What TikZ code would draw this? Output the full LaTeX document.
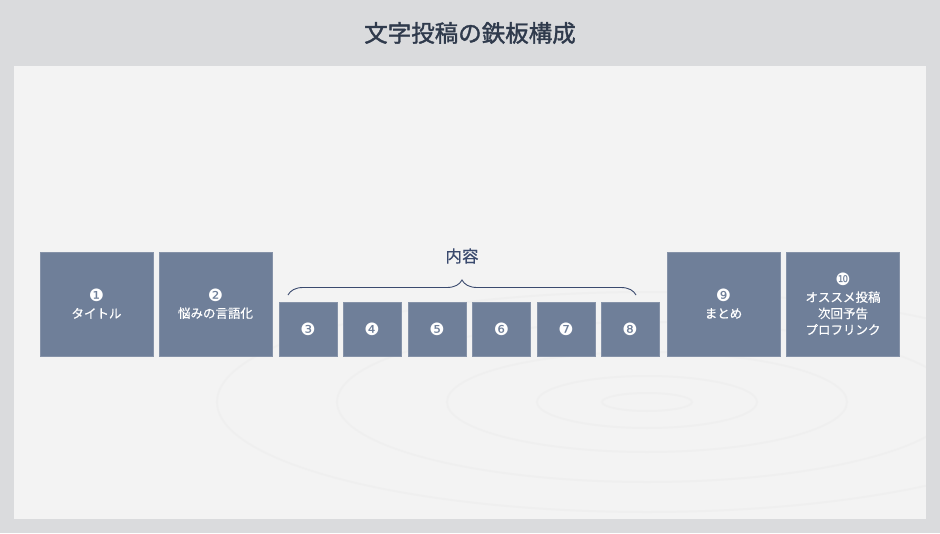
\documentclass[tikz,border=0pt]{standalone}
\usepackage{fontspec}
\usepackage{tikz}
\usetikzlibrary{decorations.pathreplacing}
\newfontfamily\jp[FakeBold=0.6]{Noto Sans CJK JP}
\newfontfamily\jpbold[FakeBold=1.6]{Noto Sans CJK JP}
\newfontfamily\numfont{DejaVu Sans}
\definecolor{slidebg}{HTML}{DADBDD}
\definecolor{panelbg}{HTML}{F3F3F3}
\definecolor{boxblue}{HTML}{6F7F99}
\definecolor{titleink}{HTML}{2F3A4C}
\definecolor{braceink}{HTML}{3A4A6E}
\def\bigbox{\node[stepbig]}
\def\smallbox{\node[stepsmall]}
\def\circnum#1{{\numfont\fontsize{17}{16}\selectfont #1}}

\begin{document}
\begin{tikzpicture}[x=1pt,y=-1pt,
  stepbig/.style={fill=boxblue,draw=boxblue!85!white,line width=0.5pt,text=white,
    minimum width=113pt,minimum height=104pt,inner sep=0pt,align=center,
    font=\jp\fontsize{12.5}{16.3}\selectfont},
  stepsmall/.style={stepbig,minimum width=58pt,minimum height=54pt},
  ripple/.style={draw=gray!15,line width=2pt,opacity=0.45}]
\useasboundingbox (0,0) rectangle (940,533);
\fill[slidebg] (0,0) rectangle (940,533);
\fill[panelbg] (14,66) rectangle (926,519);

% faint water ripples under the boxes
\begin{scope}
\clip (14,66) rectangle (926,519);
\coordinate (drop) at (647,402);
\draw[ripple] (drop) ellipse (45 and 9);
\draw[ripple] (drop) ellipse (110 and 26);
\draw[ripple] (drop) ellipse (200 and 50);
\draw[ripple] (drop) ellipse (310 and 80);
\draw[ripple] (drop) ellipse (430 and 110);
\end{scope}

\node[text=titleink,font=\jpbold\fontsize{23.5}{26}\selectfont] (title) at (470,33) {文字投稿の鉄板構成};

% -------- large steps --------
\bigbox (s1) at (96.5,304) {\circnum{❶}\\タイトル};
\bigbox (s2) at (215.5,304) {\circnum{❷}\\悩みの言語化};
\bigbox (s9) at (723.5,304) {\circnum{❾}\\まとめ};
\bigbox (s10) at (843,304) {\circnum{❿}\\オススメ投稿\\次回予告\\プロフリンク};

% -------- content steps --------
\smallbox (s3) at (308,329) {\circnum{❸}};
\smallbox (s4) at (372,329) {\circnum{❹}};
\smallbox (s5) at (437,329) {\circnum{❺}};
\smallbox (s6) at (501.5,329) {\circnum{❻}};
\smallbox (s7) at (566,329) {\circnum{❼}};
\smallbox (s8) at (630,329) {\circnum{❽}};

\coordinate (brace_l) at (288,295);
\coordinate (brace_r) at (636,295);
\draw[braceink,line width=0.9pt,decorate,decoration={brace,amplitude=15pt,aspect=0.5}]
  (brace_l) -- (brace_r);
\node[text=braceink,font=\jp\fontsize{16.5}{18}\selectfont] (content) at (462,256) {内容};
\end{tikzpicture}
\end{document}
